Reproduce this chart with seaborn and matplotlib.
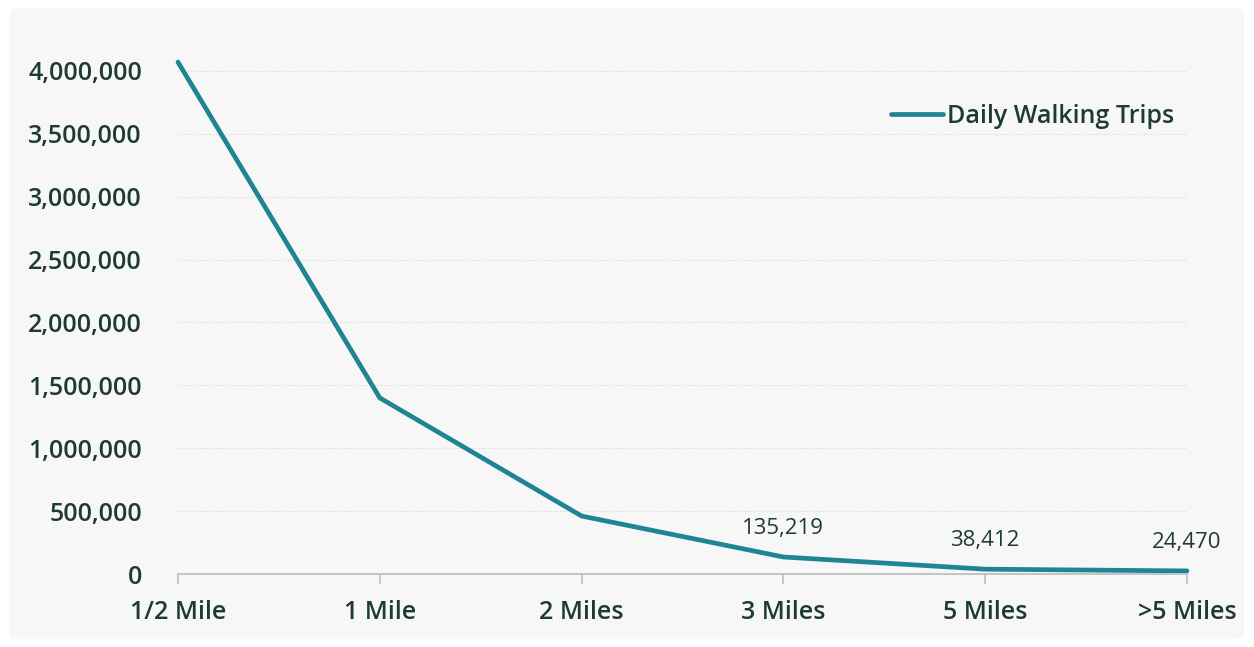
import matplotlib
matplotlib.use("Agg")
import matplotlib.pyplot as plt
from matplotlib.patches import FancyBboxPatch
import seaborn as sns
import pandas as pd

categories = ["1/2 Mile", "1 Mile", "2 Miles", "3 Miles", "5 Miles", ">5 Miles"]
trips = [4070000, 1400000, 461000, 135219, 38412, 24470]
labeled = [False, False, False, True, True, True]
series_name = "Daily Walking Trips"

sns.set_theme(style="white")
plt.rcParams['font.family'] = ['Open Sans', 'DejaVu Sans']

text_color = "#1e3a35"
line_color = "#1f8594"

df = pd.DataFrame({"pos": range(len(categories)), "trips": trips, "series": series_name})

fig = plt.figure(figsize=(12.54, 6.47), dpi=100, facecolor="white")
bg = fig.add_axes([0, 0, 1, 1], zorder=-10)
bg.set_axis_off()
bg.set_xlim(0, 1)
bg.set_ylim(0, 1)
bg.add_patch(FancyBboxPatch((0.008, 0.012), 0.984, 0.976, boxstyle="round,pad=0,rounding_size=0.008",
                            facecolor="#f7f7f7", edgecolor="none"))

ax = fig.add_axes([178/1254, (647-574)/647, (1187-178)/1254, (574-40)/647])
ax.set_facecolor("none")

sns.lineplot(data=df, x="pos", y="trips", hue="series", palette=[line_color], linewidth=3.4,
             ax=ax, solid_capstyle="round", clip_on=False)

ax.set_xlim(0, len(categories) - 1)
ax.set_ylim(0, 4246000)
yt = list(range(0, 4000001, 500000))
ax.set_yticks(yt)
ax.set_yticklabels([f"{v:,}" for v in yt], fontsize=18, color=text_color, fontweight="semibold")
ax.set_xticks(range(len(categories)))
ax.set_xticklabels(categories, fontsize=18, color=text_color, fontweight="semibold")
ax.set_xlabel("")
ax.set_ylabel("")

for s in ["top", "right", "left"]:
    ax.spines[s].set_visible(False)
ax.spines["bottom"].set_color("#bfbfbf")
ax.spines["bottom"].set_linewidth(1.3)
ax.tick_params(axis="x", bottom=True, length=7, width=1.2, color="#bfbfbf", pad=12, direction="out")
ax.tick_params(axis="y", left=False, pad=20)

for v in yt[1:]:
    ax.axhline(v, color="#d9d9d9", linestyle=(0, (1, 1.5)), linewidth=0.9, zorder=0)

for i, (v, lab) in enumerate(zip(trips, labeled)):
    if lab:
        ax.annotate(f"{v:,}", (i, v), xytext=(0, 13), textcoords="offset points",
                    ha="center", va="bottom", fontsize=16, color=text_color)

leg = ax.legend(loc="center right", bbox_to_anchor=(0.987, 0.857), frameon=False,
                borderaxespad=0, borderpad=0,
                fontsize=18, handlelength=2.1, handletextpad=0.15)
for t in leg.get_texts():
    t.set_color(text_color)
    t.set_fontweight("semibold")
for h in leg.get_lines():
    h.set_linewidth(3.4)
    h.set_solid_capstyle("round")

fig.savefig("out.png", dpi=100, facecolor="white")
